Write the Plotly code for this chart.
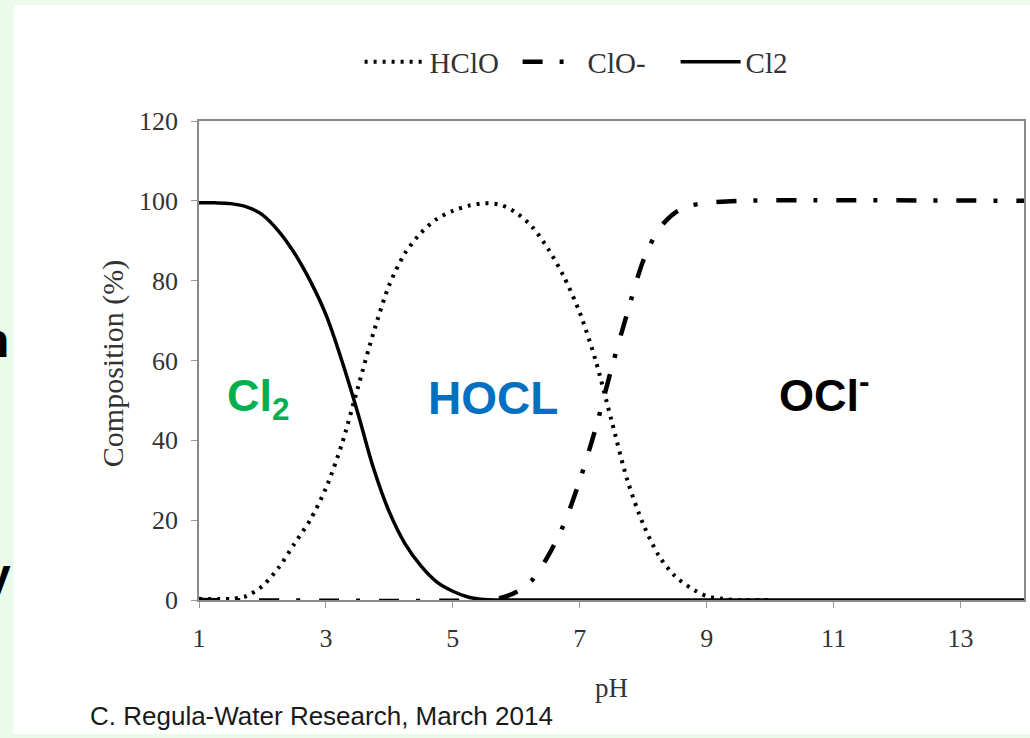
import plotly.graph_objects as go

# ---- data ----
ph_cl2 = [1.0, 1.25, 1.5, 1.75, 2.0, 2.25, 2.5, 2.75, 3.0, 3.25, 3.5, 3.75, 4.0,
          4.25, 4.5, 4.75, 5.0, 5.25, 5.5, 6.0, 14.0]
cl2 = [99.5, 99.5, 99.3, 98.5, 96.5, 92.5, 87.0, 80.0, 71.5, 60.0, 47.0, 33.0, 22.0,
       14.0, 8.5, 4.5, 2.2, 0.7, 0.1, 0.0, 0.0]

ph_hclo = [1.0, 1.5, 1.75, 2.0, 2.25, 2.5, 2.75, 3.0, 3.25, 3.5, 3.75, 4.0, 4.25,
           4.5, 4.75, 5.0, 5.25, 5.5, 5.75, 6.0, 6.25, 6.5, 6.75, 7.0, 7.25, 7.5,
           7.75, 8.0, 8.25, 8.5, 8.75, 9.0, 9.25, 9.5, 10.0]
hclo = [0.3, 0.3, 1.0, 3.5, 8.0, 14.0, 20.0, 28.0, 39.0, 53.0, 67.0, 79.0, 87.0,
        92.0, 95.5, 97.5, 98.8, 99.4, 99.0, 97.0, 93.5, 88.0, 81.0, 72.0, 60.0, 45.0,
        30.0, 19.0, 11.0, 6.0, 3.0, 1.0, 0.3, 0.0, 0.0]

ph_clo = [1.0, 5.5, 5.75, 6.0, 6.25, 6.5, 6.75, 7.0, 7.25, 7.5, 7.75, 8.0, 8.25,
          8.5, 8.75, 9.0, 9.5, 14.0]
clo = [0.0, 0.0, 0.5, 2.0, 5.0, 11.0, 19.0, 30.0, 43.0, 58.0, 72.0, 85.0, 93.0,
       97.0, 98.8, 99.5, 100.0, 100.0]

x_ticks = [1, 3, 5, 7, 9, 11, 13]
y_ticks = [0, 20, 40, 60, 80, 100, 120]

# ---- layout geometry (pixels) ----
W, H = 1030, 738
L, R, T, B = 199, 1026, 121, 600
pw, ph = R - L, B - T


def px(xp):
    return (xp - L) / pw


def py(yp):
    return (B - yp) / ph


SERIF = "Liberation Serif, Times New Roman, serif"
SANS = "Liberation Sans, Arial, sans-serif"

fig = go.Figure()
fig.add_trace(go.Scatter(x=ph_hclo, y=hclo, name="HClO", mode="lines",
                         line=dict(color="black", width=4, dash="3px,6px",
                                   shape="spline", smoothing=0.8)))
fig.add_trace(go.Scatter(x=ph_clo, y=clo, name="ClO-", mode="lines",
                         line=dict(color="black", width=4.5, dash="20px,17px,4px,19px",
                                   shape="spline", smoothing=0.8)))
fig.add_trace(go.Scatter(x=ph_cl2, y=cl2, name="Cl2", mode="lines",
                         line=dict(color="black", width=3.5,
                                   shape="spline", smoothing=1.0)))

axis_common = dict(showgrid=False, zeroline=False, showline=True, linecolor="#8a8a8a",
                   linewidth=1.5, mirror=True, ticks="outside", tickcolor="#9a9a9a",
                   ticklen=6, tickwidth=1, ticklabelstandoff=8,
                   tickfont=dict(family=SERIF, size=26, color="#333333"))

fig.update_xaxes(range=[1, 14], tickvals=x_ticks, ticktext=[str(v) for v in x_ticks],
                 **axis_common)
fig.update_yaxes(range=[0, 120], tickvals=y_ticks, ticktext=[str(v) for v in y_ticks],
                 **axis_common)

annotations = [
    dict(text="Composition (%)", x=px(113), y=py(363), xref="paper", yref="paper",
         textangle=-90, showarrow=False, xanchor="center", yanchor="middle",
         font=dict(family=SERIF, size=30, color="#333333")),
    dict(text="pH", x=px(613), y=py(688), xref="paper", yref="paper",
         showarrow=False, xanchor="center", yanchor="middle",
         font=dict(family=SERIF, size=27, color="#333333")),
    dict(text="C. Regula-Water Research, March 2014", x=px(88), y=py(716),
         xref="paper", yref="paper", showarrow=False, xanchor="left", yanchor="middle",
         font=dict(family=SANS, size=26, color="#1a1a1a")),
    dict(text="<b>Cl<sub>2</sub></b>", x=1.94, y=50.5, xref="x", yref="y",
         showarrow=False, xanchor="center", yanchor="middle",
         font=dict(family=SANS, size=45, color="#00B050")),
    dict(text="<b>HOCL</b>", x=5.64, y=50.5, xref="x", yref="y",
         showarrow=False, xanchor="center", yanchor="middle",
         font=dict(family=SANS, size=46, color="#0070C0")),
    dict(text="<b>OCl<sup>-</sup></b>", x=10.86, y=52, xref="x", yref="y",
         showarrow=False, xanchor="center", yanchor="middle",
         font=dict(family=SANS, size=45, color="black")),
    dict(text="<b>n</b>", x=px(11), y=py(340), xref="paper", yref="paper",
         showarrow=False, xanchor="right", yanchor="middle",
         font=dict(family=SANS, size=48, color="black")),
    dict(text="<b>y</b>", x=px(13), y=py(575), xref="paper", yref="paper",
         showarrow=False, xanchor="right", yanchor="middle",
         font=dict(family=SANS, size=48, color="black")),
]

shapes = [
    dict(type="rect", xref="paper", yref="paper", x0=px(13), x1=px(1032),
         y0=py(734), y1=py(5), fillcolor="white", line=dict(width=0), layer="below"),
]

fig.update_layout(
    width=W, height=H,
    margin=dict(l=L, r=W - R, t=T, b=H - B, pad=0),
    paper_bgcolor="#EBFBEA",
    plot_bgcolor="white",
    showlegend=True,
    legend=dict(orientation="h", x=px(360), y=py(62), xanchor="left", yanchor="middle",
                bgcolor="rgba(0,0,0,0)", itemwidth=60, entrywidth=83,
                font=dict(family=SERIF, size=29, color="#333333"),
                traceorder="normal"),
    annotations=annotations,
    shapes=shapes,
)

fig.write_html("out.html", config={"displayModeBar": False},
               post_script="document.body.style.margin='0';document.body.style.padding='0';")
